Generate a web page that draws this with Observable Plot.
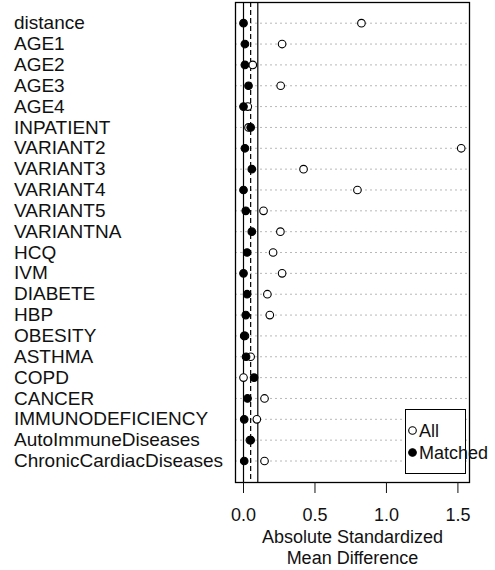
<!DOCTYPE html>
<html><head><meta charset="utf-8">
<script src="https://cdn.jsdelivr.net/npm/d3@7"></script>
<script src="https://cdn.jsdelivr.net/npm/@observablehq/plot@0.6"></script>
<style>
body{margin:0;background:#fff;}
#wrap{position:relative;width:495px;height:570px;font-family:"Liberation Sans",Arial,sans-serif;color:#111;}
#legend{position:absolute;left:405px;top:409px;width:59px;height:63px;border:1.3px solid #000;background:#fff;overflow:visible;}
#legend .item{position:absolute;left:0;white-space:nowrap;font-size:18px;line-height:18px;}
#legend svg{position:absolute;left:0;top:0;}
</style>
</head><body><div id="wrap"></div>
<script>
const covariates = ["distance","AGE1","AGE2","AGE3","AGE4","INPATIENT","VARIANT2","VARIANT3","VARIANT4","VARIANT5","VARIANTNA","HCQ","IVM","DIABETE","HBP","OBESITY","ASTHMA","COPD","CANCER","IMMUNODEFICIENCY","AutoImmuneDiseases","ChronicCardiacDiseases"];
const allValues     = [0.825,0.27,0.065,0.26,0.03,0.035,1.523,0.42,0.797,0.14,0.258,0.207,0.27,0.167,0.184,0.01,0.05,0.0,0.147,0.093,0.045,0.147];
const matchedValues = [0.0,0.01,0.01,0.035,0.0,0.05,0.01,0.058,0.0,0.016,0.058,0.025,0.0,0.025,0.016,0.005,0.018,0.074,0.028,0.005,0.05,0.005];
const xTicks = [0, 0.5, 1.0, 1.5];
const solidRefLines = [0, 0.1];
const dashedRefLines = [0.05];
const xTitle = ["Absolute Standardized", "Mean Difference"];
const legendLabels = ["All", "Matched"];

const allData = covariates.map((c, i) => ({covariate: c, value: allValues[i]}));
const matchedData = covariates.map((c, i) => ({covariate: c, value: matchedValues[i]}));

const chart = Plot.plot({
  width: 495,
  height: 570,
  marginLeft: 235,
  marginRight: 26,
  marginTop: 2,
  marginBottom: 88,
  style: {fontFamily: "'Liberation Sans', Arial, sans-serif", fontSize: "18px", color: "#111", background: "#fff"},
  x: {domain: [-0.056, 1.581]},
  y: {type: "point", domain: covariates, range: [22.7, 460.5], padding: 0, round: false},
  marks: [
    Plot.ruleY(covariates, {y: d => d, stroke: "#b8b8b8", strokeWidth: 1, strokeDasharray: "2,3"}),
    Plot.ruleX(solidRefLines, {x: d => d, stroke: "#000", strokeWidth: 1.2}),
    Plot.ruleX(dashedRefLines, {x: d => d, stroke: "#000", strokeWidth: 1.2, strokeDasharray: "5,3"}),
    Plot.frame({stroke: "#000", strokeWidth: 1.3}),
    Plot.dot(allData, {x: "value", y: "covariate", r: 3.8, fill: "#fff", stroke: "#000", strokeWidth: 1.1}),
    Plot.dot(matchedData, {x: "value", y: "covariate", r: 3.8, fill: "#000", stroke: "#000", strokeWidth: 1.1}),
    Plot.axisY({tickSize: 0, tickPadding: 221.5, textAnchor: "start", fontSize: 19, label: null}),
    Plot.axisX({ticks: xTicks, tickSize: 11, tickPadding: 15, tickFormat: d3.format(".1f"), fontSize: 18, label: null}),
    Plot.text([xTitle.join("\n")], {frameAnchor: "bottom", dy: 45, lineAnchor: "top", lineHeight: 1.18, fontSize: 18, fill: "#111"})
  ]
});
const wrap = document.getElementById("wrap");
wrap.appendChild(chart);

// legend
const legend = document.createElement("div");
legend.id = "legend";
const ns = "http://www.w3.org/2000/svg";
const lsvg = document.createElementNS(ns, "svg");
lsvg.setAttribute("width", "60");
lsvg.setAttribute("height", "64");
const legendStyles = [{fill: "#fff"}, {fill: "#000"}];
legendLabels.forEach((lab, i) => {
  const c = document.createElementNS(ns, "circle");
  c.setAttribute("cx", 6.5);
  c.setAttribute("cy", 20.5 + i * 22);
  c.setAttribute("r", 3.8);
  c.setAttribute("fill", legendStyles[i].fill);
  c.setAttribute("stroke", "#000");
  c.setAttribute("stroke-width", 1.1);
  lsvg.appendChild(c);
  const t = document.createElement("div");
  t.className = "item";
  t.style.left = "13px";
  t.style.top = (11.5 + i * 22) + "px";
  t.textContent = lab;
  legend.appendChild(t);
});
legend.appendChild(lsvg);
wrap.appendChild(legend);
</script>
</body></html>
